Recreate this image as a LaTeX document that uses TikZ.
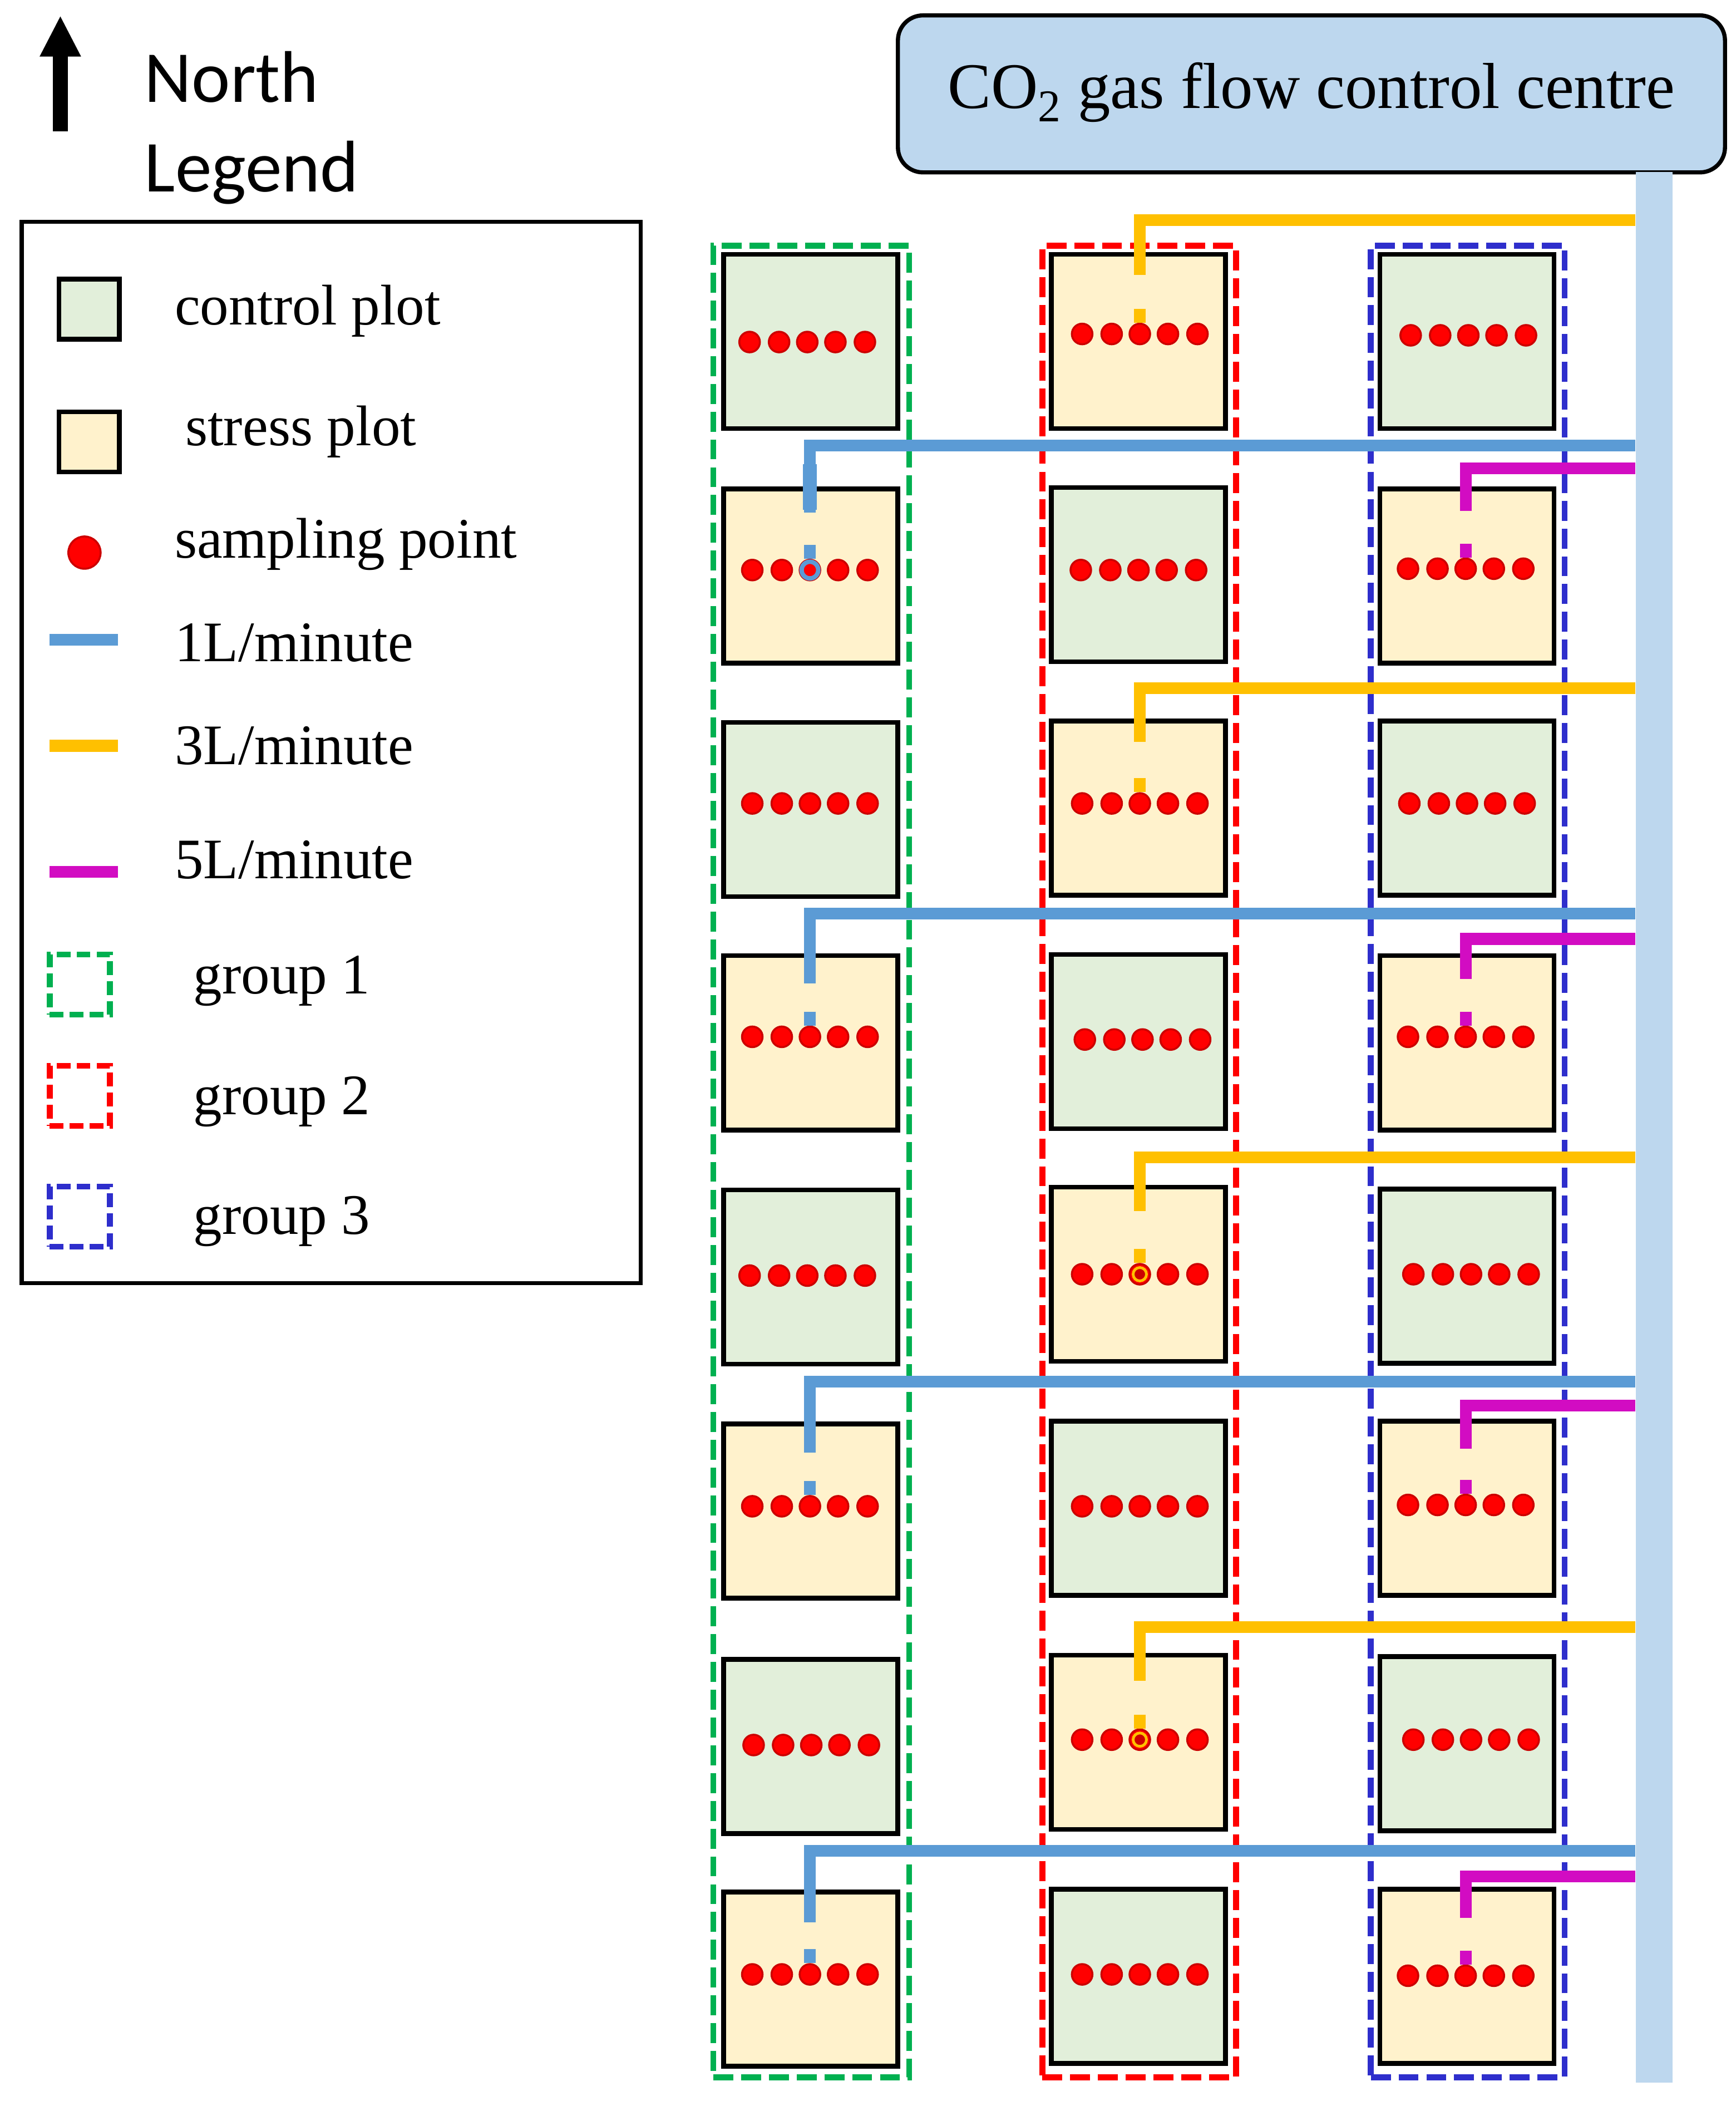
\documentclass[tikz,border=0pt]{standalone}
\usepackage{fontspec}
\setmainfont{Liberation Serif}
\newfontfamily\calibri{Carlito}
\usetikzlibrary{arrows.meta}
\definecolor{ctrlc}{HTML}{E2EFDA}
\definecolor{strsc}{HTML}{FFF2CC}
\definecolor{pipec}{HTML}{BDD7EE}
\definecolor{oneL}{HTML}{5B9BD5}
\definecolor{threeL}{HTML}{FFC000}
\definecolor{fiveL}{HTML}{D20CC2}
\definecolor{grpa}{HTML}{00B050}
\definecolor{grpb}{HTML}{FF0000}
\definecolor{grpc}{HTML}{2E2ECC}
\tikzset{ctrl/.style={draw,line width=2.4pt,fill=ctrlc,rectangle,minimum size=3.13cm,inner sep=0pt}}
\tikzset{strs/.style={draw,line width=2.4pt,fill=strsc,rectangle,minimum size=3.13cm,inner sep=0pt}}
\tikzset{spot/.style={circle,fill=red,draw=red!80!black,line width=1pt,minimum size=.37cm,inner sep=0pt}}
\tikzset{ring/.style={circle,fill=red,line width=2.3pt,minimum size=.3cm,inner sep=0pt}}
\tikzset{grp/.style={rectangle,line width=3pt,dash pattern=on 10.2pt off 4pt,inner sep=0pt}}
\tikzset{flow/.style={line width=6pt}}
\tikzset{txt/.style={anchor=base west,inner sep=0pt,font=\fontsize{29.3}{32}\selectfont}}

\begin{document}
\begin{tikzpicture}[x=.0241cm,y=-.0241cm]
\useasboundingbox (0,0) rectangle (1294.6,1566.4);
% north arrow and headings
\coordinate (a0) at (45,98);
\coordinate (a1) at (45,11.5);
\draw[-{Triangle[length=21pt,width=19.5pt]},line width=7.7pt] (a0) -- (a1);
\node[txt,font=\calibri\fontsize{37.4}{40}\selectfont] (north) at (107.5,76) {North};
\node[txt,font=\calibri\fontsize{37.4}{40}\selectfont] (legend) at (107.5,143) {Legend};
% legend
\node[draw,line width=2.1pt,rectangle,minimum width=11.12cm,minimum height=19.06cm] (frame) at (247,561) {};
\node[ctrl,minimum size=1.08cm] (k1) at (66.5,230.5) {};
\node[strs,minimum size=1.08cm] (k2) at (66.5,329.5) {};
\node[spot,minimum size=.58cm] (k3) at (63,412) {};
\coordinate (l1a) at (37,477);
\coordinate (l1b) at (88,477);
\coordinate (l2a) at (37,556);
\coordinate (l2b) at (88,556);
\coordinate (l3a) at (37,650);
\coordinate (l3b) at (88,650);
\draw[flow,oneL] (l1a) -- (l1b);
\draw[flow,threeL] (l2a) -- (l2b);
\draw[flow,fiveL] (l3a) -- (l3b);
\node[grp,draw=grpa,dash pattern=on 7pt off 3.2pt,minimum size=1.08cm] (g1) at (59.5,734) {};
\node[grp,draw=grpb,dash pattern=on 7pt off 3.2pt,minimum size=1.08cm] (g2) at (59.5,817) {};
\node[grp,draw=grpc,dash pattern=on 7pt off 3.2pt,minimum size=1.08cm] (g3) at (59.5,907) {};
\node[txt] (t1) at (130,242) {control plot};
\node[txt] (t2) at (138,332) {stress plot};
\node[txt] (t3) at (130,416) {sampling point};
\node[txt] (t4) at (130,493) {1L/minute};
\node[txt] (t5) at (130,570) {3L/minute};
\node[txt] (t6) at (130,655) {5L/minute};
\node[txt] (t7) at (144,741) {group 1};
\node[txt] (t8) at (144,831) {group 2};
\node[txt] (t9) at (144,920) {group 3};
% control centre and main pipe
\node[draw,line width=2.1pt,fill=pipec,rectangle,rounded corners=.45cm,minimum width=14.86cm,minimum height=2.82cm,inner sep=0pt] (centre) at (978,70) {};
\node[inner sep=0pt,font=\fontsize{33.2}{36}\selectfont] (title) at (978,69) {CO\textsubscript{2} gas flow control centre};
\node[fill=pipec,rectangle,minimum width=.66cm,minimum height=34.32cm,inner sep=0pt] (pipe) at (1233.5,840.5) {};
% groups
\node[grp,draw=grpa,minimum width=3.52cm,minimum height=32.9cm] (grp1) at (605,866) {};
\node[grp,draw=grpb,minimum width=3.48cm,minimum height=32.9cm] (grp2) at (849.5,866) {};
\node[grp,draw=grpc,minimum width=3.48cm,minimum height=32.9cm] (grp3) at (1094.5,866) {};
% plots: name/cx/cy/style/dots x/dots y
\foreach \n/\cx/\cy/\sty/\dx/\dy in {
 11/604.5/254.5/ctrl/602/255, 12/604.5/429.5/strs/604/425, 13/604.5/603.5/ctrl/604/599, 14/604.5/777.5/strs/604/773,
 15/604.5/952/ctrl/602/951, 16/604.5/1126.5/strs/604/1123, 17/604.5/1302/ctrl/605/1301, 18/604.5/1475.5/strs/604/1472,
 21/849/254.5/strs/850/249, 22/849/428.5/ctrl/849/425, 23/849/602.5/strs/850/599, 24/849/776.5/ctrl/852/775,
 25/849/950/strs/850/950, 26/849/1124.5/ctrl/850/1123, 27/849/1299/strs/850/1297, 28/849/1473.5/ctrl/850/1472,
 31/1094/254.5/ctrl/1095/250, 32/1094/429.5/strs/1093/424, 33/1094/602.5/ctrl/1094/599, 34/1094/777.5/strs/1093/773,
 35/1094/951.5/ctrl/1097/950, 36/1094/1124.5/strs/1093/1122, 37/1094/1300/ctrl/1097/1297, 38/1094/1473.5/strs/1093/1473}
{
 \node[\sty] (p\n) at (\cx,\cy) {};
 \foreach \i/\o in {a/-43,b/-21,c/0,d/21,e/43}
  \node[spot] (p\n\i) at (\dx+\o,\dy) {};
}
% branches from the pipe: plot/colour/y of run/end of stem
\foreach \n/\col/\y/\e in {
 21/threeL/164/205, 23/threeL/513/553, 25/threeL/863/903, 27/threeL/1213/1253,
 12/oneL/332/382, 14/oneL/681/733, 16/oneL/1030/1083, 18/oneL/1380/1433,
 32/fiveL/349/381, 34/fiveL/700/730, 36/fiveL/1048/1080, 38/fiveL/1399/1430}
{
 \coordinate (s\n) at (pipe.west |- 0,\y);
 \coordinate (e\n) at (p\n c |- 0,\e);
 \coordinate (u\n) at ([yshift=.25cm]p\n c.north);
 \draw[flow,\col] (s\n) -| (e\n);
 \draw[flow,\col] (u\n) -- (p\n c.north);
}
\draw[oneL,line width=7pt] ([yshift=.87cm]e12) -- ([yshift=.05cm]e12);
% dots with a ring
\node[ring,draw=oneL] (r12) at (p12c) {};
\node[ring,draw=threeL,fill=red!80!black,line width=1.4pt,minimum size=.24cm] (r25) at (p25c) {};
\node[ring,draw=threeL,fill=red!80!black,line width=1.4pt,minimum size=.24cm] (r27) at (p27c) {};
\end{tikzpicture}
\end{document}
